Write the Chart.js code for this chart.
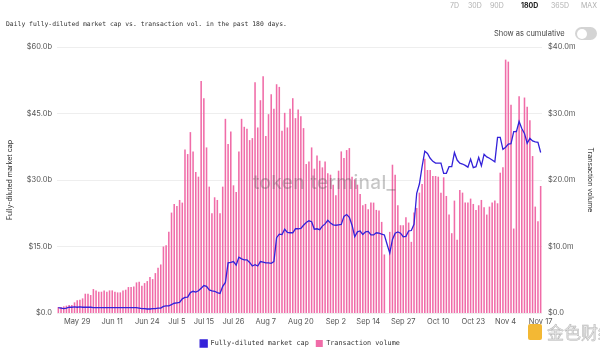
<!DOCTYPE html>
<html><head><meta charset="utf-8">
<script src="https://cdn.jsdelivr.net/npm/chart.js@4"></script>
<style>
html,body{margin:0;padding:0;background:#fff}
body{width:600px;height:355px;overflow:hidden;position:relative;font-family:Inter,"Noto Sans",sans-serif}
canvas{position:absolute;left:0;top:0}
.t{position:absolute;white-space:nowrap;line-height:1}
.p{position:absolute;top:2px;font-size:7px;color:#b0b0b0;white-space:nowrap;line-height:1}
</style></head><body>
<canvas id="c" width="600" height="355"></canvas>
<span class="p" style="left:450px">7D</span>
<span class="p" style="left:468px">30D</span>
<span class="p" style="left:490px">90D</span>
<span class="p" style="left:521px;color:#222;font-weight:700">180D</span>
<span class="p" style="left:551px">365D</span>
<span class="p" style="left:581px">MAX</span>
<div class="t" style="left:6px;top:21px;font-family:'DejaVu Sans Mono',monospace;font-size:6.4px;color:#333">Daily fully-diluted market cap vs. transaction vol. in the past 180 days.</div>
<div class="t" style="left:494px;top:30px;font-size:7.5px;color:#444">Show as cumulative</div>
<div style="position:absolute;left:575px;top:27px;width:22px;height:13px;border-radius:7px;background:#d4d4d4"><div style="position:absolute;left:2px;top:1.5px;width:10px;height:10px;border-radius:5px;background:#fff"></div></div>
<div class="t" style="left:253px;top:173px;font-size:19px;font-weight:500;color:rgba(70,70,70,0.3);letter-spacing:0.3px">token terminal_</div>
<div style="position:absolute;left:528px;top:324px;width:14px;height:16px;background:#f2b01e;border-radius:2px;opacity:0.9"></div>
<div class="t" style="left:547px;top:323px;font-family:'Noto Sans CJK SC',sans-serif;font-size:17px;color:#e4e4e4;-webkit-text-stroke:0.5px #b8b8b8">金色财经</div>
<script>
const categories = [
"May 22","May 23","May 24","May 25","May 26","May 27","May 28","May 29","May 30","May 31",
"Jun 1","Jun 2","Jun 3","Jun 4","Jun 5","Jun 6","Jun 7","Jun 8","Jun 9","Jun 10",
"Jun 11","Jun 12","Jun 13","Jun 14","Jun 15","Jun 16","Jun 17","Jun 18","Jun 19","Jun 20",
"Jun 21","Jun 22","Jun 23","Jun 24","Jun 25","Jun 26","Jun 27","Jun 28","Jun 29","Jun 30",
"Jul 1","Jul 2","Jul 3","Jul 4","Jul 5","Jul 6","Jul 7","Jul 8","Jul 9","Jul 10",
"Jul 11","Jul 12","Jul 13","Jul 14","Jul 15","Jul 16","Jul 17","Jul 18","Jul 19","Jul 20",
"Jul 21","Jul 22","Jul 23","Jul 24","Jul 25","Jul 26","Jul 27","Jul 28","Jul 29","Jul 30",
"Jul 31","Aug 1","Aug 2","Aug 3","Aug 4","Aug 5","Aug 6","Aug 7","Aug 8","Aug 9",
"Aug 10","Aug 11","Aug 12","Aug 13","Aug 14","Aug 15","Aug 16","Aug 17","Aug 18","Aug 19",
"Aug 20","Aug 21","Aug 22","Aug 23","Aug 24","Aug 25","Aug 26","Aug 27","Aug 28","Aug 29",
"Aug 30","Aug 31","Sep 1","Sep 2","Sep 3","Sep 4","Sep 5","Sep 6","Sep 7","Sep 8",
"Sep 9","Sep 10","Sep 11","Sep 12","Sep 13","Sep 14","Sep 15","Sep 16","Sep 17","Sep 18",
"Sep 19","Sep 20","Sep 21","Sep 22","Sep 23","Sep 24","Sep 25","Sep 26","Sep 27","Sep 28",
"Sep 29","Sep 30","Oct 1","Oct 2","Oct 3","Oct 4","Oct 5","Oct 6","Oct 7","Oct 8",
"Oct 9","Oct 10","Oct 11","Oct 12","Oct 13","Oct 14","Oct 15","Oct 16","Oct 17","Oct 18",
"Oct 19","Oct 20","Oct 21","Oct 22","Oct 23","Oct 24","Oct 25","Oct 26","Oct 27","Oct 28",
"Oct 29","Oct 30","Oct 31","Nov 1","Nov 2","Nov 3","Nov 4","Nov 5","Nov 6","Nov 7",
"Nov 8","Nov 9","Nov 10","Nov 11","Nov 12","Nov 13","Nov 14","Nov 15","Nov 16","Nov 17"];

const tickLabels = ["May 29","Jun 11","Jun 24","Jul 5","Jul 15","Jul 26","Aug 7","Aug 20","Sep 2","Sep 14","Sep 27","Oct 10","Oct 23","Nov 4","Nov 17"];

// Fully-diluted market cap, $ billions
const marketCapB = [
1.2,1.1,1.0,1.1,1.3,1.3,1.4,1.3,1.4,1.3,
1.3,1.3,1.3,1.2,1.2,1.2,1.2,1.2,1.2,1.2,
1.2,1.2,1.2,1.2,1.2,1.2,1.2,1.2,1.2,1.2,
1.1,1.0,1.0,0.9,0.9,1.0,1.0,1.1,1.1,1.5,
1.6,1.6,1.9,2.2,2.3,2.4,3.2,3.5,3.6,4.6,
4.9,4.7,5.0,5.6,6.2,6.0,5.2,5.0,4.9,4.6,
4.4,6.0,6.9,11.3,11.4,11.6,10.8,12.6,12.2,12.0,
12.0,11.4,10.6,10.9,10.6,11.6,11.5,11.3,11.3,11.2,
11.6,17.0,17.8,17.7,18.9,18.2,18.1,18.1,19.0,19.0,
19.1,19.8,20.4,20.8,20.6,18.9,19.0,18.8,19.6,20.1,
20.9,20.3,19.9,19.8,19.9,20.0,21.8,22.2,21.6,19.8,
17.2,18.3,18.5,17.7,18.3,18.4,17.6,17.6,18.1,18.0,
17.8,17.6,15.5,13.5,16.6,18.0,18.3,18.0,17.2,17.3,
18.5,18.6,20.0,27.0,29.1,33.0,36.5,36.0,34.9,34.2,
33.8,33.8,33.8,31.5,31.5,33.0,33.0,36.2,34.5,33.8,
33.6,33.3,32.9,34.7,32.8,33.0,35.1,33.2,35.8,35.2,
34.9,34.5,34.1,39.6,39.6,36.9,37.4,38.1,38.2,40.9,
40.9,43.2,41.6,40.5,38.3,39.4,38.8,38.6,38.5,36.2];

// Transaction volume, $ millions
const txVolumeM = [
0.9,0.9,1.0,1.1,1.2,1.2,1.6,1.9,2.0,2.2,
2.9,2.9,2.7,3.6,3.4,3.2,3.2,3.4,3.2,3.4,
3.4,3.2,3.1,3.1,3.4,3.5,3.9,3.9,4.0,4.6,
4.7,4.1,4.5,4.8,5.4,5.1,6.0,6.8,7.3,10.0,
10.2,12.2,15.1,16.4,16.1,17.0,16.6,24.6,23.9,27.2,
24.3,21.2,20.5,34.9,32.3,24.9,19.0,15.0,17.4,17.0,
15.0,19.0,29.2,25.4,27.3,19.2,18.2,24.3,29.2,28.0,
27.7,26.0,26.3,34.7,27.9,32.0,35.6,26.6,29.9,32.9,
30.7,34.4,34.0,27.4,30.1,27.9,30.7,32.3,29.3,30.6,
29.6,27.8,22.4,22.8,24.9,21.7,23.7,22.9,21.9,22.8,
21.0,20.8,19.3,17.7,21.4,24.3,23.3,24.5,24.8,20.5,
20.1,19.3,17.9,16.2,16.4,15.6,16.6,16.6,15.5,15.4,
13.7,8.8,0,12.2,22.3,20.8,16.2,13.2,13.2,14.4,
13.6,10.7,15.1,15.8,18.1,19.4,23.2,21.5,21.5,20.6,
20.6,20.5,18.1,20.4,17.6,14.8,12.0,16.9,11.0,18.5,
18.1,16.6,16.6,17.2,16.4,15.5,16.2,17.0,15.9,14.8,
16.0,16.6,16.9,16.5,21.1,21.9,38.1,37.8,31.3,12.7,
27.5,32.6,27.6,32.4,31.0,29.0,23.6,16.0,13.8,19.1];

const tickFont = {family: 'Inter', size: 7.5};
new Chart(document.getElementById('c'), {
  data: {
    labels: categories,
    datasets: [
      {type: 'line', label: 'Fully-diluted market cap', data: marketCapB, yAxisID: 'yCap',
       borderColor: '#3422d9', backgroundColor: '#3422d9', borderWidth: 1.3,
       pointRadius: 0, tension: 0, order: 0},
      {type: 'bar', label: 'Transaction volume', data: txVolumeM, yAxisID: 'yVol',
       backgroundColor: '#f06ca8', borderWidth: 0, barPercentage: 0.58, categoryPercentage: 1, order: 1}
    ]
  },
  options: {
    responsive: false, animation: false, devicePixelRatio: 1,
    layout: {padding: {top: 47, left: 0, right: 0, bottom: 0}},
    plugins: {
      legend: {position: 'bottom', maxHeight: 22, labels: {boxWidth: 7, boxHeight: 7, padding: 7,
        font: {family: 'DejaVu Sans Mono', size: 6.8}, color: '#333'}},
      tooltip: {enabled: false}
    },
    scales: {
      x: {
        grid: {display: false, drawTicks: false, tickLength: 0}, border: {display: false},
        ticks: {autoSkip: false, maxRotation: 0, minRotation: 0, padding: 4, font: tickFont, color: '#555',
          callback: function (v, i) { const l = categories[i]; return tickLabels.includes(l) ? l : ''; }},
        afterFit: function (s) { s.height = 20; }
      },
      yCap: {
        position: 'left', min: 0, max: 60,
        ticks: {stepSize: 15, padding: 5, font: tickFont, color: '#555',
          callback: v => v === 0 ? '$0.0' : '$' + v.toFixed(1) + 'b'},
        grid: {color: '#eeeeee', drawTicks: false}, border: {display: false},
        title: {display: true, text: 'Fully-diluted market cap', font: {family: 'Inter', size: 7}, color: '#333', padding: {top: 6, bottom: 0}},
        afterFit: function (s) { s.width = 57; }
      },
      yVol: {
        position: 'right', min: 0, max: 40,
        ticks: {stepSize: 10, padding: 6, font: tickFont, color: '#555',
          callback: v => v === 0 ? '$0.0' : '$' + v.toFixed(1) + 'm'},
        grid: {display: false, drawTicks: false}, border: {display: false},
        title: {display: true, text: 'Transaction volume', font: {family: 'Inter', size: 7}, color: '#333', padding: {top: 6, bottom: 0}},
        afterFit: function (s) { s.width = 58; }
      }
    }
  }
});
</script>
</body></html>
